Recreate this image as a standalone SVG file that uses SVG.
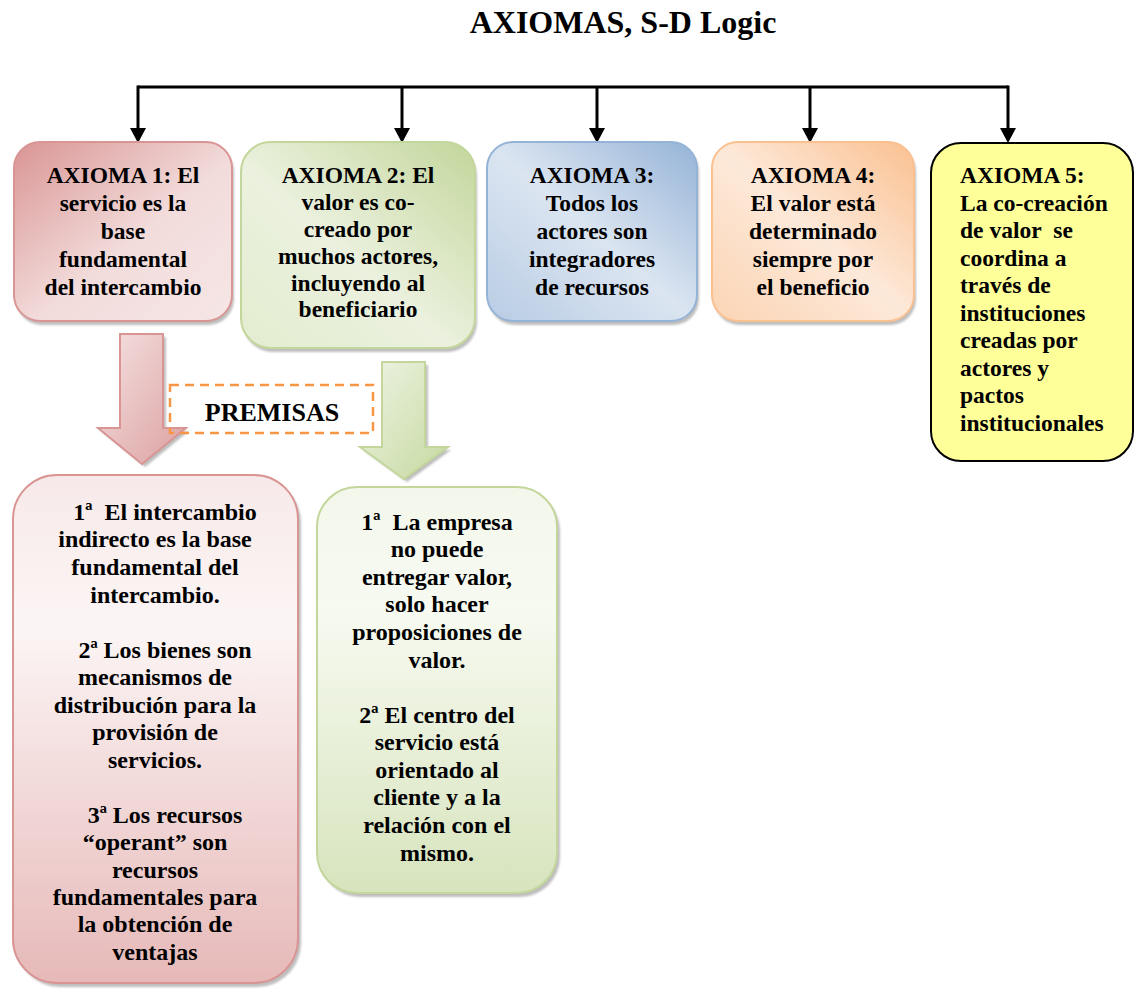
<svg xmlns="http://www.w3.org/2000/svg" width="1135" height="991" viewBox="0 0 1135 991">
  <defs>
    <style>
      .t { font-family: "Liberation Serif", "Times New Roman", serif; font-weight: bold; font-size: 23.5px; fill: #000; text-anchor: middle; }
      .p { font-size: 24px; }
      .s { text-anchor: start; }
      .title { font-family: "Liberation Serif", "Times New Roman", serif; font-weight: bold; font-size: 32px; fill: #000; text-anchor: middle; }
      .conn { stroke: #000; stroke-width: 3; fill: none; }
      .shadow { fill: #6f6f6f; opacity: 0.45; filter: url(#soft); }
    </style>
    <filter id="soft" x="-10%" y="-10%" width="120%" height="120%">
      <feGaussianBlur stdDeviation="1.2"/>
    </filter>
    <marker id="head" viewBox="0 0 15 16" refX="0" refY="8" markerWidth="15" markerHeight="16" markerUnits="userSpaceOnUse" orient="auto">
      <path d="M0,0 L15,8 L0,16 Z" fill="#000"/>
    </marker>
    <!-- axiom box fills -->
    <linearGradient id="gRed" x1="0" y1="0" x2="1" y2="1">
      <stop offset="0" stop-color="#D99594"/>
      <stop offset="0.55" stop-color="#F2DCDB"/>
      <stop offset="1" stop-color="#F6E6E6"/>
    </linearGradient>
    <linearGradient id="gGreen" x1="1" y1="0" x2="0" y2="1">
      <stop offset="0" stop-color="#C3D69B"/>
      <stop offset="0.55" stop-color="#EBF1DE"/>
      <stop offset="1" stop-color="#E3ECCF"/>
    </linearGradient>
    <linearGradient id="gBlue" x1="1" y1="0" x2="0" y2="1">
      <stop offset="0" stop-color="#95B3D7"/>
      <stop offset="0.5" stop-color="#DBE5F1"/>
      <stop offset="1" stop-color="#B8CCE4"/>
    </linearGradient>
    <linearGradient id="gOrange" x1="1" y1="0" x2="0" y2="1">
      <stop offset="0" stop-color="#FAC090"/>
      <stop offset="0.5" stop-color="#FDE9D9"/>
      <stop offset="1" stop-color="#FBD4B4"/>
    </linearGradient>
    <!-- premise box fills -->
    <linearGradient id="gRedV" x1="0" y1="0" x2="0" y2="1">
      <stop offset="0" stop-color="#F7E9E9"/>
      <stop offset="0.3" stop-color="#FCF5F5"/>
      <stop offset="1" stop-color="#E6B9B8"/>
    </linearGradient>
    <linearGradient id="gGreenV" x1="0" y1="0" x2="0" y2="1">
      <stop offset="0" stop-color="#F3F7EB"/>
      <stop offset="0.3" stop-color="#F7FAF1"/>
      <stop offset="1" stop-color="#D7E4BD"/>
    </linearGradient>
    <!-- block arrow fills -->
    <linearGradient id="gRedA" x1="0" y1="0" x2="1" y2="1">
      <stop offset="0" stop-color="#F5E2E2"/>
      <stop offset="1" stop-color="#DCA0A0"/>
    </linearGradient>
    <linearGradient id="gGreenA" x1="0" y1="0" x2="1" y2="1">
      <stop offset="0" stop-color="#EEF4E4"/>
      <stop offset="1" stop-color="#C6D9A0"/>
    </linearGradient>
  </defs>

  <rect width="1135" height="991" fill="#fff"/>

  <text class="title" x="623" y="33">AXIOMAS, S-D Logic</text>

  <!-- branching connectors from the title bar to each axiom -->
  <g id="connectors">
    <path class="conn" d="M138,87 H1008"/>
    <path class="conn" d="M138,85.5 V128" marker-end="url(#head)"/>
    <path class="conn" d="M402,87 V128" marker-end="url(#head)"/>
    <path class="conn" d="M597,87 V128" marker-end="url(#head)"/>
    <path class="conn" d="M810,87 V128" marker-end="url(#head)"/>
    <path class="conn" d="M1008,85.5 V128" marker-end="url(#head)"/>
  </g>

  <g id="axioma1">
    <rect class="shadow" x="16" y="146" width="218" height="179" rx="26"/>
    <rect x="14" y="142" width="218" height="179" rx="26" fill="url(#gRed)" stroke="#D99594" stroke-width="2"/>
    <text class="t" x="123" y="183">AXIOMA 1: El</text>
    <text class="t" x="123" y="211">servicio es la</text>
    <text class="t" x="123" y="239">base</text>
    <text class="t" x="123" y="267">fundamental</text>
    <text class="t" x="123" y="295">del intercambio</text>
  </g>

  <g id="axioma2">
    <rect class="shadow" x="243" y="146" width="234" height="206" rx="30"/>
    <rect x="241" y="142" width="234" height="206" rx="30" fill="url(#gGreen)" stroke="#C3D69B" stroke-width="2"/>
    <text class="t" x="358" y="183">AXIOMA 2: El</text>
    <text class="t" x="358" y="210">valor es co-</text>
    <text class="t" x="358" y="237">creado por</text>
    <text class="t" x="358" y="264">muchos actores,</text>
    <text class="t" x="358" y="291">incluyendo al</text>
    <text class="t" x="358" y="317">beneficiario</text>
  </g>

  <g id="axioma3">
    <rect class="shadow" x="489" y="146" width="210" height="179" rx="26"/>
    <rect x="487" y="142" width="210" height="179" rx="26" fill="url(#gBlue)" stroke="#95B3D7" stroke-width="2"/>
    <text class="t" x="592" y="183">AXIOMA 3:</text>
    <text class="t" x="592" y="211">Todos los</text>
    <text class="t" x="592" y="239">actores son</text>
    <text class="t" x="592" y="267">integradores</text>
    <text class="t" x="592" y="295">de recursos</text>
  </g>

  <g id="axioma4">
    <rect class="shadow" x="714" y="146" width="202" height="179" rx="26"/>
    <rect x="712" y="142" width="202" height="179" rx="26" fill="url(#gOrange)" stroke="#FAC090" stroke-width="2"/>
    <text class="t" x="813" y="183">AXIOMA 4:</text>
    <text class="t" x="813" y="211">El valor está</text>
    <text class="t" x="813" y="239">determinado</text>
    <text class="t" x="813" y="267">siempre por</text>
    <text class="t" x="813" y="295">el beneficio</text>
  </g>

  <g id="axioma5">
    <rect x="931" y="143" width="202" height="318" rx="30" fill="#FFFF99" stroke="#000" stroke-width="2"/>
    <text class="t s" x="960" y="183">AXIOMA 5:</text>
    <text class="t s" x="960" y="211">La co-creación</text>
    <text class="t s" x="960" y="238">de valor&#160; se</text>
    <text class="t s" x="960" y="266">coordina a</text>
    <text class="t s" x="960" y="293">través de</text>
    <text class="t s" x="960" y="321">instituciones</text>
    <text class="t s" x="960" y="348">creadas por</text>
    <text class="t s" x="960" y="376">actores y</text>
    <text class="t s" x="960" y="403">pactos</text>
    <text class="t s" x="960" y="431">institucionales</text>
  </g>

  <!-- block arrows leading to the premises -->
  <g id="flecha1">
    <path class="shadow" d="M123,337 H166 V431 H189 L145,467 L101,431 H123 Z"/>
    <path d="M120,334 H163 V428 H186 L142,464 L98,428 H120 Z" fill="url(#gRedA)" stroke="#D99594" stroke-width="2"/>
  </g>
  <g id="flecha2">
    <path class="shadow" d="M385,365 H428 V450 H451 L407,482 L363,450 H385 Z"/>
    <path d="M382,362 H425 V447 H448 L404,479 L360,447 H382 Z" fill="url(#gGreenA)" stroke="#C3D69B" stroke-width="2"/>
  </g>

  <g id="premisas">
    <rect x="170" y="385" width="203" height="48" fill="none" stroke="#F79646" stroke-width="2.5" stroke-dasharray="9 6"/>
    <text class="t" x="272" y="421" style="font-size:26px">PREMISAS</text>
  </g>

  <g id="premisas1">
    <rect class="shadow" x="16" y="479" width="285" height="508" rx="44"/>
    <rect x="13" y="475" width="285" height="508" rx="44" fill="url(#gRedV)" stroke="#D99594" stroke-width="2"/>
    <text class="t p" x="165" y="520">1ª&#160; El intercambio</text>
    <text class="t p" x="155" y="547">indirecto es la base</text>
    <text class="t p" x="155" y="575">fundamental del</text>
    <text class="t p" x="155" y="603">intercambio.</text>
    <text class="t p" x="165" y="658">2ª Los bienes son</text>
    <text class="t p" x="155" y="685">mecanismos de</text>
    <text class="t p" x="155" y="713">distribución para la</text>
    <text class="t p" x="155" y="740">provisión de</text>
    <text class="t p" x="155" y="768">servicios.</text>
    <text class="t p" x="165" y="823">3ª Los recursos</text>
    <text class="t p" x="155" y="850">“operant” son</text>
    <text class="t p" x="155" y="878">recursos</text>
    <text class="t p" x="155" y="905">fundamentales para</text>
    <text class="t p" x="155" y="932">la obtención de</text>
    <text class="t p" x="155" y="960">ventajas</text>
  </g>

  <g id="premisas2">
    <rect class="shadow" x="320" y="491" width="240" height="406" rx="40"/>
    <rect x="317" y="487" width="240" height="406" rx="40" fill="url(#gGreenV)" stroke="#C3D69B" stroke-width="2"/>
    <text class="t p" x="437" y="530">1ª&#160; La empresa</text>
    <text class="t p" x="437" y="557">no puede</text>
    <text class="t p" x="437" y="585">entregar valor,</text>
    <text class="t p" x="437" y="612">solo hacer</text>
    <text class="t p" x="437" y="640">proposiciones de</text>
    <text class="t p" x="437" y="668">valor.</text>
    <text class="t p" x="437" y="723">2ª El centro del</text>
    <text class="t p" x="437" y="750">servicio está</text>
    <text class="t p" x="437" y="778">orientado al</text>
    <text class="t p" x="437" y="805">cliente y a la</text>
    <text class="t p" x="437" y="833">relación con el</text>
    <text class="t p" x="437" y="861">mismo.</text>
  </g>
</svg>
